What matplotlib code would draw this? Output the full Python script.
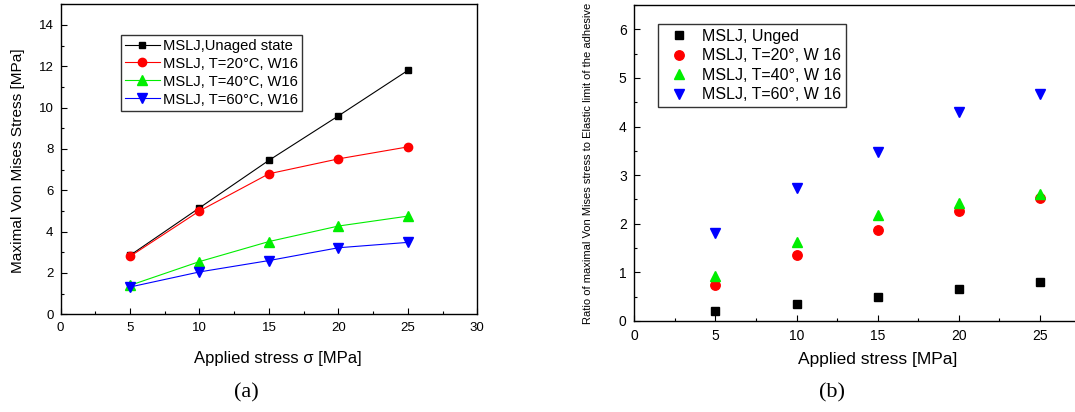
import matplotlib
matplotlib.use("Agg")
import matplotlib.pyplot as plt
from matplotlib.ticker import MultipleLocator

plt.rcParams['font.family'] = ['Liberation Sans', 'DejaVu Sans']

# Applied stress levels [MPa]
stress = [5, 10, 15, 20, 25]

# (a) maximal Von Mises stress [MPa]
vm_unaged = [2.85, 5.15, 7.45, 9.6, 11.8]
vm_t20 = [2.8, 5.0, 6.8, 7.52, 8.1]
vm_t40 = [1.4, 2.55, 3.52, 4.27, 4.75]
vm_t60 = [1.32, 2.05, 2.6, 3.22, 3.48]

# (b) ratio of maximal Von Mises stress to the adhesive elastic limit
ratio_unaged = [0.2, 0.35, 0.5, 0.65, 0.8]
ratio_t20 = [0.74, 1.36, 1.87, 2.26, 2.52]
ratio_t40 = [0.92, 1.62, 2.19, 2.42, 2.62]
ratio_t60 = [1.80, 2.74, 3.47, 4.30, 4.66]

labels_a = ["MSLJ,Unaged state", "MSLJ, T=20°C, W16", "MSLJ, T=40°C, W16", "MSLJ, T=60°C, W16"]
labels_b = ["MSLJ, Unged", "MSLJ, T=20°, W 16", "MSLJ, T=40°, W 16", "MSLJ, T=60°, W 16"]
colors = ["#000000", "#ff0000", "#00ee00", "#0000ff"]
markers = ["s", "o", "^", "v"]
sizes_a = [5.0, 6.0, 6.5, 6.5]
sizes_b = [5.5, 6.8, 7.5, 7.5]

fig = plt.figure(figsize=(10.75, 4.12), dpi=100)
W, H = 1075, 412

def style_axes(ax, fs):
    ax.tick_params(which='both', direction='in', labelsize=fs, width=0.8)
    ax.tick_params(which='major', length=4)
    ax.tick_params(which='minor', length=2.5)
    for s in ax.spines.values():
        s.set_linewidth(1.0)

# ---- panel (a)
ax1 = fig.add_axes([60.5 / W, 1 - 314.3 / H, (477.3 - 60.5) / W, (314.3 - 4.3) / H])
for y, lab, c, m, ms in zip([vm_unaged, vm_t20, vm_t40, vm_t60], labels_a, colors, markers, sizes_a):
    ax1.plot(stress, y, color=c, marker=m, markersize=ms, linewidth=0.8, label=lab)
ax1.set_xlim(0, 30)
ax1.set_ylim(0, 15)
ax1.set_xticks(range(0, 31, 5))
ax1.set_yticks(range(0, 15, 2))
ax1.xaxis.set_minor_locator(MultipleLocator(2.5))
ax1.yaxis.set_minor_locator(MultipleLocator(1))
style_axes(ax1, 9.5)
ax1.tick_params(axis='x', pad=5.5)
ax1.tick_params(axis='y', pad=5.0)
ax1.set_xlabel("Applied stress σ [MPa]", fontsize=12)
ax1.xaxis.set_label_coords((277.6 - 60.5) / 416.8, 1 - (358 - 4.3) / 310)
ax1.xaxis.label.set_va('center')
ax1.set_ylabel("Maximal Von Mises Stress [MPa]", fontsize=11.1)
ax1.yaxis.set_label_coords((18 - 60.5) / 416.8, 1 - (161 - 4.3) / 310)
ax1.yaxis.label.set_va('center')
leg1 = ax1.legend(loc='upper left', bbox_to_anchor=((120.7 - 60.5) / 416.8, 1 - (34.7 - 4.3) / 310),
                  fontsize=10.6, frameon=True, fancybox=False, edgecolor='black',
                  handlelength=2.4, borderpad=0.27, labelspacing=0.27, handletextpad=0.2,
                  borderaxespad=0)
leg1.get_frame().set_linewidth(1.0)
fig.text(246 / W, 1 - 393 / H, "(a)", family='Liberation Serif', fontsize=16,
         ha='center', va='center')

# ---- panel (b)
bw = 30 * 16.23
ax2 = fig.add_axes([634.3 / W, 1 - 321 / H, bw / W, (321 - 5) / H])
for y, lab, c, m, ms in zip([ratio_unaged, ratio_t20, ratio_t40, ratio_t60], labels_b, colors, markers, sizes_b):
    ax2.plot(stress, y, linestyle='none', color=c, marker=m, markersize=ms, label=lab)
ax2.set_xlim(0, 30)
ax2.set_ylim(0, 6.5)
ax2.set_xticks(range(0, 26, 5))
ax2.set_yticks(range(0, 7, 1))
ax2.xaxis.set_minor_locator(MultipleLocator(2.5))
ax2.yaxis.set_minor_locator(MultipleLocator(0.5))
style_axes(ax2, 10)
ax2.tick_params(axis='x', pad=6)
ax2.tick_params(axis='y', pad=5.5)
ax2.set_xlabel("Applied stress [MPa]", fontsize=12.5, labelpad=6)
ax2.set_ylabel("Ratio of maximal Von Mises stress to Elastic limit of the adhesive",
               fontsize=8, labelpad=18.5)
leg2 = ax2.legend(loc='upper left', bbox_to_anchor=((657.7 - 634.3) / bw, 1 - (24 - 5) / 316),
                  fontsize=11.5, frameon=True, fancybox=False, edgecolor='black',
                  handlelength=2.1, borderpad=0.3, labelspacing=0.28, handletextpad=0.35,
                  borderaxespad=0)
leg2.get_frame().set_linewidth(1.0)
fig.text(832 / W, 1 - 393 / H, "(b)", family='Liberation Serif', fontsize=16,
         ha='center', va='center')

fig.savefig("out.png", dpi=100)
